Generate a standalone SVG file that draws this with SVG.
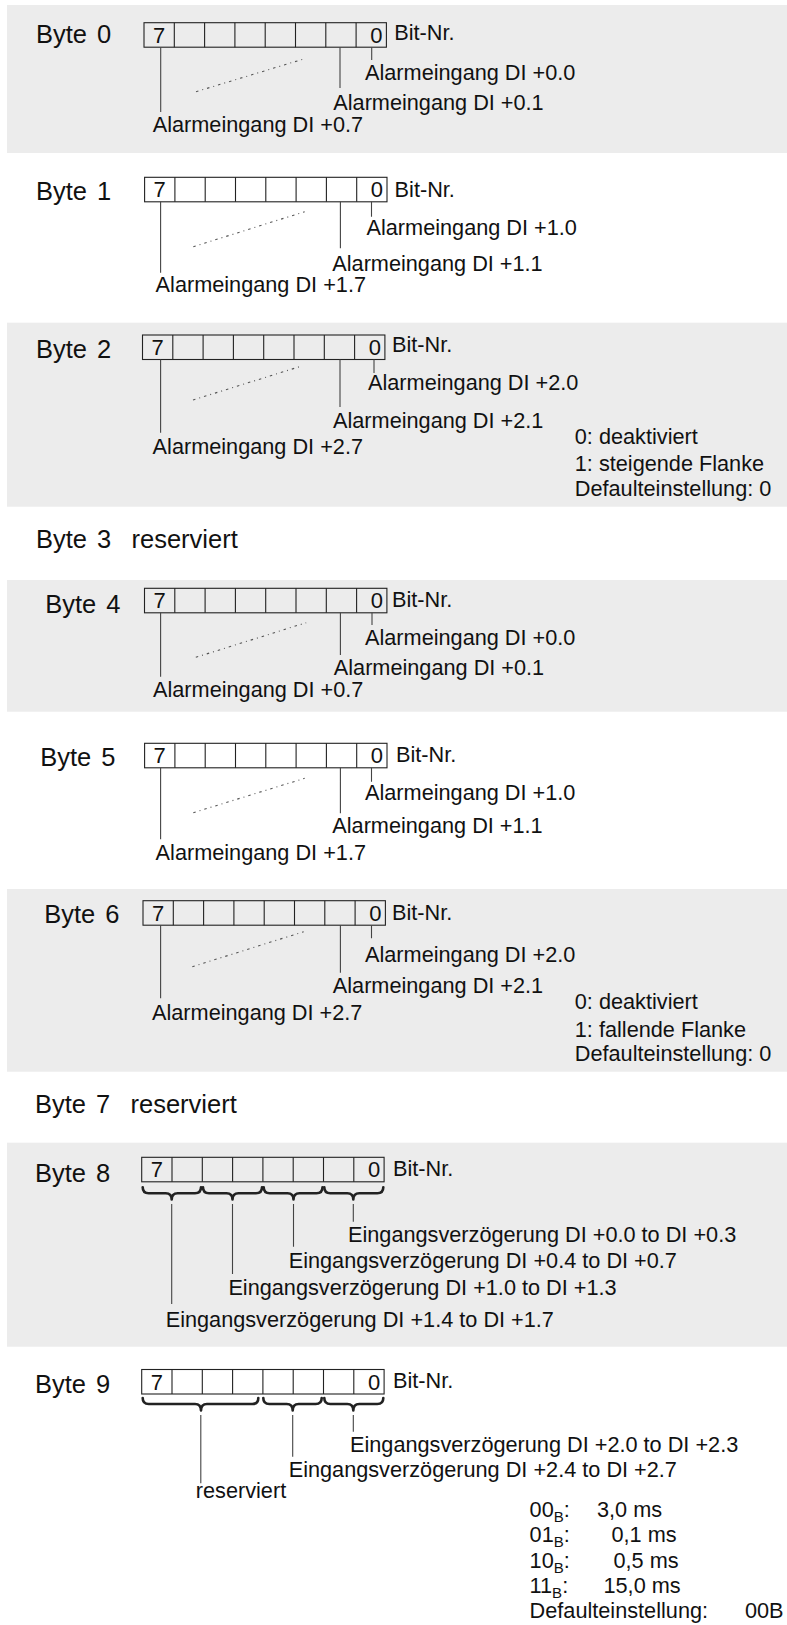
<svg xmlns="http://www.w3.org/2000/svg" xmlns:xlink="http://www.w3.org/1999/xlink" width="787" height="1625" viewBox="0 0 787 1625">
<style>
.panel{fill:#ececec;stroke:none}
text{font-family:"Liberation Sans",Arial,sans-serif;fill:#111}
.t{font-size:21.7px}
.h{font-size:25.5px;word-spacing:3px}
.d{font-size:22px}
.g{fill:none;stroke:#222;stroke-width:1.1}
.ld{fill:none;stroke:#444;stroke-width:1.1}
.dot{fill:none;stroke:#555;stroke-width:1.1;stroke-dasharray:2.5 4 1 4}
.br{fill:none;stroke:#222;stroke-width:2.6;stroke-linejoin:round;stroke-linecap:round}
.sub{font-size:15px}
</style>
<defs>
<g id="grid">
<rect class="g" x="0" y="0" width="242.4" height="24.5"/>
<path class="g" d="M30.3,0V24.5M60.6,0V24.5M90.9,0V24.5M121.2,0V24.5M151.5,0V24.5M181.8,0V24.5M212.1,0V24.5"/>
<text class="d" x="9" y="20">7</text>
<text class="d" x="238.5" y="20" text-anchor="end">0</text>
</g>
</defs>

<g id="byte0">
<rect class="panel" x="7" y="5" width="780" height="148"/>
<text class="h" x="36" y="42.7">Byte 0</text>
<use xlink:href="#grid" href="#grid" x="144" y="22.7"/>
<text class="t" x="394.3" y="40">Bit-Nr.</text>
<text class="t" x="365" y="80">Alarmeingang DI +0.0</text>
<text class="t" x="333.3" y="110">Alarmeingang DI +0.1</text>
<text class="t" x="152.7" y="131.7">Alarmeingang DI +0.7</text>
</g>

<g id="byte1">
<text class="h" x="36" y="200">Byte 1</text>
<use xlink:href="#grid" href="#grid" x="144.6" y="177.3"/>
<text class="t" x="394.6" y="196.7">Bit-Nr.</text>
<text class="t" x="366.5" y="235">Alarmeingang DI +1.0</text>
<text class="t" x="332.3" y="271">Alarmeingang DI +1.1</text>
<text class="t" x="155.6" y="291.7">Alarmeingang DI +1.7</text>
</g>

<g id="byte2">
<rect class="panel" x="7" y="322.7" width="780" height="184"/>
<text class="h" x="36" y="358.3">Byte 2</text>
<use xlink:href="#grid" href="#grid" x="142.5" y="335"/>
<text class="t" x="392" y="351.7">Bit-Nr.</text>
<text class="t" x="368" y="390">Alarmeingang DI +2.0</text>
<text class="t" x="333" y="427.7">Alarmeingang DI +2.1</text>
<text class="t" x="152.6" y="454">Alarmeingang DI +2.7</text>
<text class="t" x="574.8" y="444">0: deaktiviert</text>
<text class="t" x="574.8" y="470.7">1: steigende Flanke</text>
<text class="t" x="574.8" y="496">Defaulteinstellung: 0</text>
</g>

<g id="byte3">
<text class="h" x="36" y="548.3" xml:space="preserve">Byte 3  reserviert</text>
</g>

<g id="byte4">
<rect class="panel" x="7" y="580" width="780" height="131.7"/>
<text class="h" x="45.2" y="613.3">Byte 4</text>
<use xlink:href="#grid" href="#grid" x="144.5" y="588.3"/>
<text class="t" x="392" y="606.7">Bit-Nr.</text>
<text class="t" x="365" y="645">Alarmeingang DI +0.0</text>
<text class="t" x="333.8" y="675">Alarmeingang DI +0.1</text>
<text class="t" x="153" y="696.7">Alarmeingang DI +0.7</text>
</g>

<g id="byte5">
<text class="h" x="40.2" y="765.7">Byte 5</text>
<use xlink:href="#grid" href="#grid" x="144.6" y="743.3"/>
<text class="t" x="396" y="761.7">Bit-Nr.</text>
<text class="t" x="365" y="800">Alarmeingang DI +1.0</text>
<text class="t" x="332.3" y="833.3">Alarmeingang DI +1.1</text>
<text class="t" x="155.6" y="860">Alarmeingang DI +1.7</text>
</g>

<g id="byte6">
<rect class="panel" x="7" y="889" width="780" height="182.7"/>
<text class="h" x="44.2" y="923.3">Byte 6</text>
<use xlink:href="#grid" href="#grid" x="143" y="900.7"/>
<text class="t" x="392" y="920">Bit-Nr.</text>
<text class="t" x="365" y="961.7">Alarmeingang DI +2.0</text>
<text class="t" x="332.8" y="993.3">Alarmeingang DI +2.1</text>
<text class="t" x="152" y="1020">Alarmeingang DI +2.7</text>
<text class="t" x="574.8" y="1009.3">0: deaktiviert</text>
<text class="t" x="574.8" y="1036.7">1: fallende Flanke</text>
<text class="t" x="574.8" y="1060.7">Defaulteinstellung: 0</text>
</g>

<g id="byte7">
<text class="h" x="35" y="1113.3" xml:space="preserve">Byte 7  reserviert</text>
</g>

<g id="byte8">
<rect class="panel" x="7" y="1142.7" width="780" height="204"/>
<text class="h" x="35" y="1181.7">Byte 8</text>
<use xlink:href="#grid" href="#grid" x="141.7" y="1157.3"/>
<text class="t" x="393" y="1176">Bit-Nr.</text>
<text class="t" x="348" y="1241.7">Eingangsverzögerung DI +0.0 to DI +0.3</text>
<text class="t" x="288.7" y="1268.3">Eingangsverzögerung DI +0.4 to DI +0.7</text>
<text class="t" x="228.4" y="1295">Eingangsverzögerung DI +1.0 to DI +1.3</text>
<text class="t" x="165.7" y="1326.7">Eingangsverzögerung DI +1.4 to DI +1.7</text>
</g>

<g id="byte9">
<text class="h" x="35" y="1393.3">Byte 9</text>
<use xlink:href="#grid" href="#grid" x="141.7" y="1369.5"/>
<text class="t" x="393" y="1388.3">Bit-Nr.</text>
<text class="t" x="350" y="1451.7">Eingangsverzögerung DI +2.0 to DI +2.3</text>
<text class="t" x="288.7" y="1476.7">Eingangsverzögerung DI +2.4 to DI +2.7</text>
<text class="t" x="195.8" y="1498.3">reserviert</text>
<text class="t" x="529.6" y="1516.7">00<tspan class="sub" dy="5">B</tspan><tspan dy="-5">:</tspan></text>
<text class="t" x="597" y="1516.7">3,0 ms</text>
<text class="t" x="529.6" y="1542.3">01<tspan class="sub" dy="5">B</tspan><tspan dy="-5">:</tspan></text>
<text class="t" x="611.5" y="1542.3">0,1 ms</text>
<text class="t" x="529.6" y="1567.7">10<tspan class="sub" dy="5">B</tspan><tspan dy="-5">:</tspan></text>
<text class="t" x="613.5" y="1567.7">0,5 ms</text>
<text class="t" x="529.6" y="1593.3">11<tspan class="sub" dy="5">B</tspan><tspan dy="-5">:</tspan></text>
<text class="t" x="603.5" y="1593.3">15,0 ms</text>
<text class="t" x="529.6" y="1618.3">Defaulteinstellung: <tspan x="745">00B</tspan></text>
</g>

<g id="connectors">
<path class="ld" d="M371.7,47.2V60M340,47.2V88M160.7,47.2V112"/>
<path class="dot" d="M196,91.7L306,58.3"/>
<path class="ld" d="M371.5,201.8V216.7M340.4,201.8V248.3M160.6,201.8V272.7"/>
<path class="dot" d="M193.3,246.7L304.7,211.7"/>
<path class="ld" d="M374,359.5V373M340,359.5V407M160.6,359.5V432.7"/>
<path class="dot" d="M193,400L302.7,365.7"/>
<path class="ld" d="M372,612.8V625M340.4,612.8V655M160.6,612.8V676.7"/>
<path class="dot" d="M195.8,657.3L306.2,622.7"/>
<path class="ld" d="M371.5,767.8V781.7M340.4,767.8V813.3M160.6,767.8V839.3"/>
<path class="dot" d="M193.3,812.7L304.7,778.3"/>
<path class="ld" d="M371.5,925.2V938.3M340.4,925.2V972.7M160.6,925.2V998.3"/>
<path class="dot" d="M192.3,966.7L303.7,931.7"/>
<path class="br" d="M142.7,1187.3Q142.7,1193.3 148.7,1193.3L165.7,1193.3Q171.7,1193.3 171.7,1199.5Q171.7,1193.3 177.7,1193.3L195,1193.3Q201,1193.3 201,1187.3"/>
<path class="br" d="M203,1187.3Q203,1193.3 209,1193.3L226.5,1193.3Q232.5,1193.3 232.5,1199.5Q232.5,1193.3 238.5,1193.3L256,1193.3Q262,1193.3 262,1187.3"/>
<path class="br" d="M263.7,1187.3Q263.7,1193.3 269.7,1193.3L287.5,1193.3Q293.5,1193.3 293.5,1199.5Q293.5,1193.3 299.5,1193.3L316.5,1193.3Q322.5,1193.3 322.5,1187.3"/>
<path class="br" d="M324.3,1187.3Q324.3,1193.3 330.3,1193.3L347.3,1193.3Q353.3,1193.3 353.3,1199.5Q353.3,1193.3 359.3,1193.3L377.3,1193.3Q383.3,1193.3 383.3,1187.3"/>
<path class="ld" d="M353.3,1204V1221.7M293.5,1204V1246.7M232.5,1204V1274M171.7,1204V1304"/>
<path class="br" d="M142.7,1398Q142.7,1404 148.7,1404L195,1404Q201,1404 201,1410.5Q201,1404 207,1404L252.3,1404Q258.3,1404 258.3,1398"/>
<path class="br" d="M263.3,1398Q263.3,1404 269.3,1404L286.7,1404Q292.7,1404 292.7,1410.5Q292.7,1404 298.7,1404L315.7,1404Q321.7,1404 321.7,1398"/>
<path class="br" d="M324.3,1398Q324.3,1404 330.3,1404L347.3,1404Q353.3,1404 353.3,1410.5Q353.3,1404 359.3,1404L377.3,1404Q383.3,1404 383.3,1398"/>
<path class="ld" d="M353.3,1415V1431.7M292.7,1415V1456.7M200.8,1415V1483.3"/>
</g>
</svg>
